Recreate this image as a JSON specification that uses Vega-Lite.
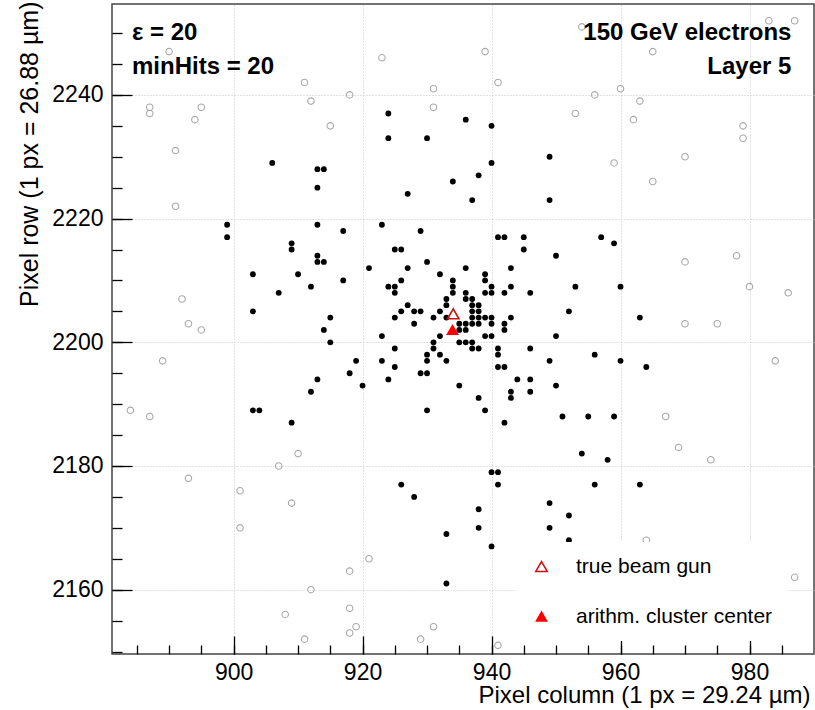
{
  "$schema": "https://vega.github.io/schema/vega-lite/v6.json",
  "width": 702,
  "height": 650,
  "autosize": {"type": "none"},
  "padding": {"left": 112, "top": 4, "right": 1, "bottom": 56},
  "background": "white",
  "config": {
    "view": {"stroke": "#444444", "strokeWidth": 1.5},
    "font": "Liberation Sans",
    "legend": {
      "labelFont": "Liberation Sans",
      "labelFontSize": 21,
      "labelColor": "black",
      "labelLimit": 0,
      "symbolStrokeWidth": 1.6,
      "padding": 14,
      "rowPadding": 28,
      "labelOffset": 24,
      "fillColor": "white",
      "symbolType": "triangle-up"
    }
  },
  "resolve": {"axis": {"x": "independent", "y": "independent"}},
  "datasets": {
    "noise": [
      {"col":890,"row":2247},{"col":887,"row":2238},{"col":887,"row":2237},{"col":895,"row":2238},{"col":894,"row":2236},{"col":891,"row":2231},{"col":891,"row":2222},{"col":923,"row":2246},{"col":911,"row":2242},{"col":912,"row":2239},{"col":918,"row":2240},{"col":915,"row":2235},{"col":931,"row":2241},{"col":931,"row":2238},{"col":892,"row":2207},{"col":893,"row":2203},{"col":895,"row":2202},
      {"col":954,"row":2251},{"col":939,"row":2247},{"col":941,"row":2242},{"col":965,"row":2247},{"col":956,"row":2240},{"col":960,"row":2241},{"col":963,"row":2239},{"col":953,"row":2237},{"col":962,"row":2236},{"col":979,"row":2235},{"col":979,"row":2233},{"col":970,"row":2230},{"col":959,"row":2229},{"col":965,"row":2226},{"col":983,"row":2252},{"col":987,"row":2252},{"col":970,"row":2213},{"col":978,"row":2214},{"col":980,"row":2209},{"col":986,"row":2208},{"col":970,"row":2203},{"col":975,"row":2203},
      {"col":889,"row":2197},{"col":884,"row":2189},{"col":887,"row":2188},{"col":893,"row":2178},{"col":901,"row":2176},{"col":901,"row":2170},{"col":907,"row":2180},{"col":910,"row":2182},{"col":909,"row":2174},{"col":921,"row":2165},{"col":918,"row":2163},{"col":912,"row":2160},{"col":908,"row":2156},{"col":918,"row":2157},{"col":919,"row":2154},{"col":918,"row":2153},{"col":911,"row":2152},{"col":931,"row":2154},{"col":929,"row":2152},
      {"col":984,"row":2197},{"col":967,"row":2188},{"col":969,"row":2183},{"col":974,"row":2181},{"col":964,"row":2168},{"col":987,"row":2162},{"col":941,"row":2151}
    ],
    "cluster": [
      {"col":899,"row":2219},{"col":899,"row":2217},{"col":906,"row":2229},{"col":913,"row":2228},{"col":914,"row":2228},{"col":913,"row":2225},{"col":913,"row":2219},{"col":917,"row":2218},{"col":909,"row":2216},{"col":909,"row":2215},{"col":913,"row":2214},{"col":913,"row":2213},{"col":914,"row":2213},{"col":910,"row":2211},{"col":903,"row":2211},{"col":907,"row":2208},{"col":912,"row":2209},{"col":917,"row":2210},{"col":903,"row":2205},{"col":915,"row":2204},{"col":914,"row":2202},{"col":924,"row":2237},{"col":924,"row":2233},{"col":930,"row":2233},{"col":934,"row":2226},{"col":927,"row":2224},{"col":923,"row":2219},{"col":929,"row":2218},{"col":925,"row":2215},{"col":926,"row":2215},{"col":930,"row":2213},{"col":921,"row":2212},{"col":927,"row":2212},{"col":932,"row":2211},{"col":926,"row":2210},{"col":924,"row":2209},{"col":925,"row":2209},{"col":925,"row":2208},{"col":934,"row":2210},{"col":934,"row":2209},{"col":934,"row":2208},{"col":936,"row":2236},{"col":936,"row":2212},{"col":933,"row":2207},{"col":933,"row":2206},{"col":927,"row":2206},{"col":926,"row":2205},{"col":928,"row":2205},{"col":929,"row":2205},{"col":932,"row":2205},{"col":925,"row":2204},{"col":931,"row":2204},{"col":933,"row":2204},{"col":928,"row":2203},
      {"col":940,"row":2235},{"col":940,"row":2229},{"col":938,"row":2227},{"col":937,"row":2223},{"col":949,"row":2230},{"col":949,"row":2223},{"col":941,"row":2217},{"col":942,"row":2217},{"col":945,"row":2217},{"col":945,"row":2215},{"col":950,"row":2214},{"col":957,"row":2217},{"col":959,"row":2216},{"col":939,"row":2211},{"col":939,"row":2210},{"col":943,"row":2212},{"col":936,"row":2208},{"col":939,"row":2208},{"col":940,"row":2209},{"col":940,"row":2208},{"col":942,"row":2208},{"col":943,"row":2209},{"col":946,"row":2208},{"col":953,"row":2209},{"col":960,"row":2209},{"col":952,"row":2205},{"col":963,"row":2204},
      {"col":936,"row":2207},{"col":937,"row":2207},{"col":937,"row":2206},{"col":938,"row":2206},{"col":937,"row":2205},{"col":938,"row":2205},{"col":937,"row":2204},{"col":938,"row":2204},{"col":939,"row":2204},{"col":940,"row":2204},{"col":943,"row":2204},{"col":935,"row":2203},{"col":936,"row":2203},{"col":937,"row":2203},{"col":938,"row":2203},{"col":940,"row":2203},{"col":942,"row":2203},{"col":935,"row":2202},{"col":936,"row":2202},{"col":942,"row":2202},{"col":932,"row":2201},{"col":939,"row":2201},{"col":940,"row":2201},{"col":950,"row":2201},{"col":935,"row":2200},{"col":936,"row":2200},{"col":937,"row":2200},{"col":931,"row":2200},{"col":937,"row":2199},{"col":938,"row":2199},{"col":941,"row":2199},{"col":946,"row":2199},{"col":956,"row":2198},{"col":931,"row":2199},{"col":930,"row":2198},{"col":932,"row":2198},{"col":941,"row":2198},{"col":930,"row":2197},{"col":933,"row":2197},{"col":949,"row":2197},{"col":941,"row":2196},{"col":942,"row":2196},{"col":929,"row":2195},{"col":930,"row":2195},{"col":935,"row":2193},{"col":944,"row":2194},{"col":946,"row":2194},{"col":950,"row":2193},{"col":943,"row":2192},{"col":946,"row":2192},{"col":943,"row":2191},{"col":938,"row":2191},{"col":930,"row":2189},{"col":939,"row":2189},{"col":951,"row":2188},{"col":955,"row":2188},
      {"col":915,"row":2200},{"col":923,"row":2201},{"col":925,"row":2199},{"col":925,"row":2196},{"col":923,"row":2197},{"col":919,"row":2197},{"col":918,"row":2195},{"col":913,"row":2194},{"col":912,"row":2192},{"col":920,"row":2193},{"col":924,"row":2194},{"col":903,"row":2189},{"col":904,"row":2189},{"col":909,"row":2187},{"col":926,"row":2177},{"col":928,"row":2175},{"col":933,"row":2169},{"col":933,"row":2161},
      {"col":960,"row":2197},{"col":964,"row":2196},{"col":942,"row":2187},{"col":959,"row":2188},{"col":954,"row":2182},{"col":958,"row":2181},{"col":940,"row":2179},{"col":941,"row":2179},{"col":941,"row":2177},{"col":956,"row":2177},{"col":963,"row":2177},{"col":949,"row":2174},{"col":952,"row":2172},{"col":938,"row":2173},{"col":938,"row":2170},{"col":949,"row":2170},{"col":952,"row":2168},{"col":940,"row":2167}
    ],
    "centers": [
      {"label": "true beam gun", "col": 934.06, "row": 2204.6},
      {"label": "arithm. cluster center", "col": 933.95, "row": 2202.0}
    ]
  },
  "layer": [
    {
      "data": {"name": "noise"},
      "mark": {"type": "point", "shape": "circle", "filled": false, "stroke": "#a8a8a8", "strokeWidth": 1.1, "size": 42, "opacity": 1},
      "encoding": {
        "x": {
          "field": "col",
          "type": "quantitative",
          "scale": {"domain": [881.15, 990], "nice": false, "zero": false},
          "axis": {
            "orient": "bottom",
            "title": "Pixel column (1 px = 29.24 µm)",
            "values": [885,890,895,900,905,910,915,920,925,930,935,940,945,950,955,960,965,970,975,980,985],
            "format": "d",
            "labelExpr": "datum.value % 20 === 0 ? datum.label : ''",
            "domain": false,
            "grid": false,
            "ticks": true,
            "tickColor": "black",
            "tickWidth": 1.3,
            "tickSize": -9,
            "labelPadding": 34,
            "labelBaseline": "alphabetic",
            "labelFont": "Liberation Sans",
            "labelFontSize": 23,
            "labelColor": "black",
            "labelFlush": false,
            "labelOverlap": false,
            "titleFont": "Liberation Sans",
            "titleFontSize": 24,
            "titleFontWeight": "normal",
            "titleColor": "black",
            "titleAlign": "right",
            "titleAnchor": "end",
            "titleBaseline": "alphabetic",
            "titleX": 698,
            "titleY": 48
          }
        },
        "y": {
          "field": "row",
          "type": "quantitative",
          "scale": {"domain": [2149.6, 2254.7], "nice": false, "zero": false},
          "axis": {
            "orient": "left",
            "title": "Pixel row (1 px = 26.88 µm)",
            "values": [2150,2155,2160,2165,2170,2175,2180,2185,2190,2195,2200,2205,2210,2215,2220,2225,2230,2235,2240,2245,2250],
            "format": "d",
            "labelExpr": "datum.value % 20 === 0 ? datum.label : ''",
            "domain": false,
            "grid": false,
            "ticks": true,
            "tickColor": "black",
            "tickWidth": 1.3,
            "tickSize": -10,
            "labelPadding": 19,
            "labelAlign": "right",
            "labelBaseline": "middle",
            "labelFont": "Liberation Sans",
            "labelFontSize": 23,
            "labelColor": "black",
            "labelFlush": false,
            "labelOverlap": false,
            "titleFont": "Liberation Sans",
            "titleFontSize": 25,
            "titleFontWeight": "normal",
            "titleColor": "black",
            "titleAngle": -90,
            "titleAlign": "right",
            "titleAnchor": "end",
            "titleBaseline": "middle",
            "titleX": -83,
            "titleY": -3
          }
        }
      }
    },
    {
      "data": {"name": "cluster"},
      "mark": {"type": "point", "shape": "circle", "filled": true, "color": "black", "size": 34, "opacity": 1},
      "encoding": {
        "x": {
          "field": "col",
          "type": "quantitative",
          "scale": {"domain": [881.15, 990], "nice": false, "zero": false},
          "axis": {
            "orient": "top",
            "offset": -650,
            "title": null,
            "values": [900, 920, 940, 960, 980],
            "labels": false,
            "domain": false,
            "grid": true,
            "gridColor": "#c4c4c4",
            "gridDash": [1, 2],
            "gridWidth": 1,
            "ticks": true,
            "tickColor": "black",
            "tickWidth": 1.3,
            "tickSize": 18
          }
        },
        "y": {
          "field": "row",
          "type": "quantitative",
          "scale": {"domain": [2149.6, 2254.7], "nice": false, "zero": false},
          "axis": {
            "orient": "right",
            "offset": -702,
            "title": null,
            "values": [2160, 2180, 2200, 2220, 2240],
            "labels": false,
            "domain": false,
            "grid": true,
            "gridColor": "#c4c4c4",
            "gridDash": [1, 2],
            "gridWidth": 1,
            "ticks": true,
            "tickColor": "black",
            "tickWidth": 1.3,
            "tickSize": 20
          }
        }
      }
    },
    {
      "data": {"name": "centers"},
      "mark": {"type": "point", "shape": "triangle-up", "strokeWidth": 1.6, "opacity": 1},
      "encoding": {
        "x": {"field": "col", "type": "quantitative", "scale": {"domain": [881.15, 990], "nice": false, "zero": false}, "axis": null},
        "y": {"field": "row", "type": "quantitative", "scale": {"domain": [2149.6, 2254.7], "nice": false, "zero": false}, "axis": null},
        "stroke": {
          "field": "label", "type": "nominal",
          "scale": {"domain": ["true beam gun", "arithm. cluster center"], "range": ["#cc1111", "#ff0000"]},
          "legend": {"title": null, "orient": "none", "legendX": 405, "legendY": 538}
        },
        "fill": {
          "field": "label", "type": "nominal",
          "scale": {"domain": ["true beam gun", "arithm. cluster center"], "range": ["transparent", "#ff0000"]},
          "legend": {"title": null, "orient": "none", "legendX": 405, "legendY": 538}
        },
        "size": {
          "field": "label", "type": "nominal",
          "scale": {"domain": ["true beam gun", "arithm. cluster center"], "range": [130, 100]},
          "legend": {"title": null, "orient": "none", "legendX": 405, "legendY": 538}
        }
      }
    },
    {
      "data": {"values": [{"t": "ε = 20\nminHits = 20"}]},
      "mark": {"type": "text", "align": "left", "baseline": "alphabetic", "font": "Liberation Sans", "fontWeight": "bold", "fontSize": 24, "lineBreak": "\n", "lineHeight": 34, "color": "black"},
      "encoding": {
        "x": {"datum": 884.25, "type": "quantitative", "axis": null},
        "y": {"datum": 2248.9, "type": "quantitative", "axis": null},
        "text": {"field": "t"}
      }
    },
    {
      "data": {"values": [{"t": "150 GeV electrons\nLayer 5"}]},
      "mark": {"type": "text", "align": "right", "baseline": "alphabetic", "font": "Liberation Sans", "fontWeight": "bold", "fontSize": 24, "lineBreak": "\n", "lineHeight": 34, "color": "black"},
      "encoding": {
        "x": {"datum": 986.5, "type": "quantitative", "axis": null},
        "y": {"datum": 2248.9, "type": "quantitative", "axis": null},
        "text": {"field": "t"}
      }
    }
  ]
}
